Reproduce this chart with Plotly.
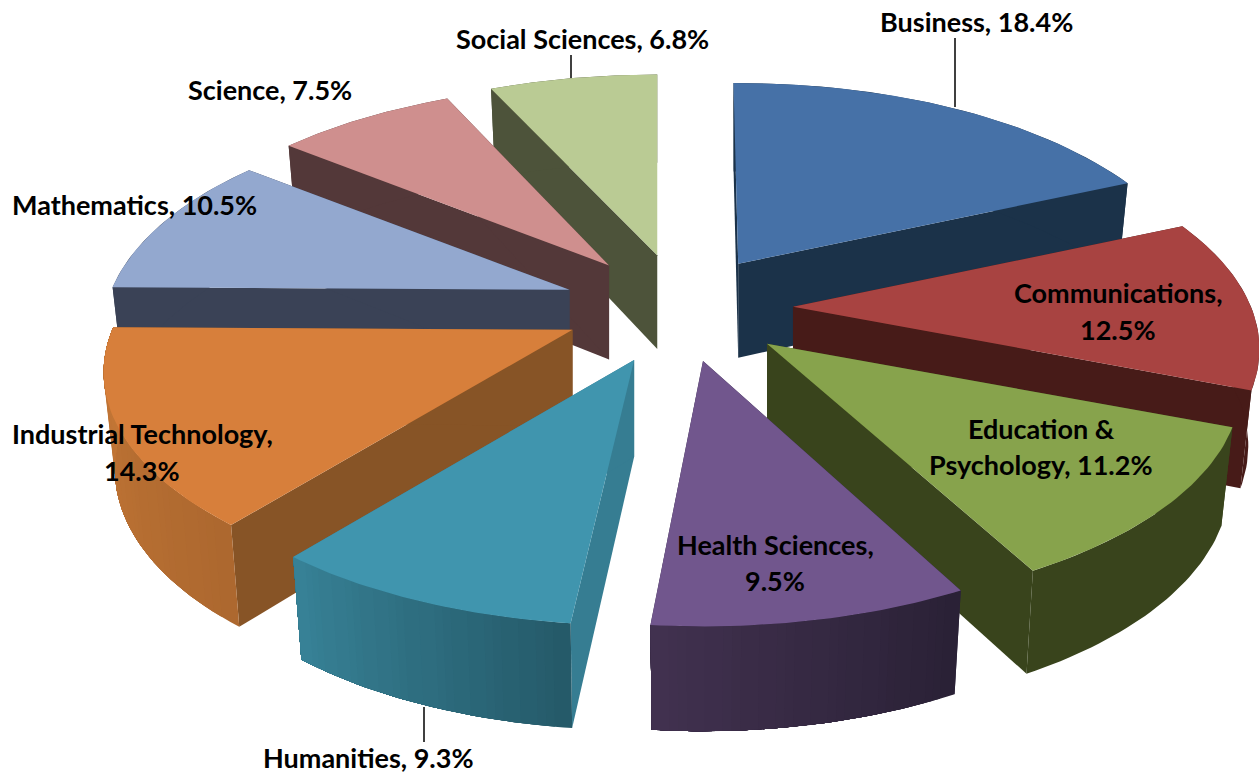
import math
import plotly.graph_objects as go

# --- data -------------------------------------------------------------
categories = ["Business", "Communications", "Education & Psychology", "Health Sciences",
              "Humanities", "Industrial Technology", "Mathematics", "Science", "Social Sciences"]
shares = [18.4, 12.5, 11.2, 9.5, 9.3, 14.3, 10.5, 7.5, 6.8]

top_colors = ["#4671A7", "#A84341", "#87A34C", "#71568D", "#4095AE", "#D77F3B", "#93A8CF", "#CF8F8E", "#BACB94"]
face_colors = ["#1B3249", "#471B18", "#39441C", "#2E2540", "#367D92", "#875426", "#3A4256", "#533839", "#4D533A"]
wall_start = ["#1B3249", "#471B18", "#39441C", "#2A2136", "#255A69", "#AD682F", "#3A4256", "#533839", "#4D533A"]
wall_end = ["#1B3249", "#471B18", "#39441C", "#41314F", "#378196", "#C47736", "#3A4256", "#533839", "#4D533A"]

label_lines = [["Business, 18.4%"], ["Communications,", "12.5%"], ["Education &", "Psychology, 11.2%"],
               ["Health Sciences,", "9.5%"], ["Humanities, 9.3%"], ["Industrial Technology,", "14.3%"],
               ["Mathematics, 10.5%"], ["Science, 7.5%"], ["Social Sciences, 6.8%"]]
label_x = [976, 1118, 1041, 775, 368, 142, 134, 270, 582]
label_y = [[21.5], [292.5, 329.5], [428.5, 464.5], [544.5, 580.5], [757.5], [433.5, 470.5], [204.5], [89.5], [38.5]]
leaders = [(955, 38, 107), (571, 55, 78), (424, 707, 742)]

# --- projection of the exploded, perspective pie ------------------------
CX, CY = 679, 308      # centre the slices explode from
EX, EY = 112, 54       # explosion on screen
A, B, P = 465, 215, 0.19  # radius on screen and perspective

# small per-slice corrections of the projection
nudge_x = [-2, 2, 4, 2, -2, -5, -4, -1, 2]
nudge_y = [1, 0, 0, 0, 2, -1, 0, 0, 0]
width_scale = [0.985, 0.985, 1.0, 1.0, 1.0, 0.99, 0.985, 0.985, 1.0]
start_turn = [-0.7, 0, 0, 1.0, 0.6, 0, 0, 0, -0.3]
end_turn = [0, 0, 0, -0.5, -0.6, 0, 0, 0, 0]


def rim(theta):
    w = 1 + P * math.cos(theta)
    return A * math.sin(theta) / w, -B * math.cos(theta) / w


def lower(pt, apex):
    return pt[0] - 0.024 * (pt[0] - apex[0]), pt[1] + 86 + 0.03 * pt[1]


def hex_mix(c1, c2, t):
    a = [int(c1[i:i + 2], 16) for i in (1, 3, 5)]
    b = [int(c2[i:i + 2], 16) for i in (1, 3, 5)]
    return "#%02x%02x%02x" % tuple(round(u + (v - u) * t) for u, v in zip(a, b))


fig = go.Figure()


def poly(points, color):
    xs = [p[0] for p in points] + [points[0][0]]
    ys = [p[1] for p in points] + [points[0][1]]
    fig.add_trace(go.Scatter(x=xs, y=ys, mode="lines", fill="toself", fillcolor=color,
                             line=dict(color=color, width=0), hoverinfo="skip", showlegend=False))


total = sum(shares)
bounds = [0.0]
for s in shares:
    bounds.append(bounds[-1] + s / total * 2 * math.pi)

draw_order = [8, 7, 6, 5, 4, 0, 1, 2, 3]
STEPS = 36
BANDS = 24
for i in draw_order:
    t0 = bounds[i] + math.radians(start_turn[i])
    t1 = bounds[i + 1] + math.radians(end_turn[i])
    mid = (bounds[i] + bounds[i + 1]) / 2
    apex = (CX + EX * math.sin(mid) + nudge_x[i], CY - EY * math.cos(mid) + nudge_y[i])
    angles = [t0 + (t1 - t0) * k / STEPS for k in range(STEPS + 1)]
    arc = [(apex[0] + width_scale[i] * rim(t)[0], apex[1] + rim(t)[1]) for t in angles]
    low = [lower(p, apex) for p in arc]
    low_apex = lower(apex, apex)
    # radial side faces
    poly([apex, arc[0], low[0], low_apex], face_colors[i])
    poly([apex, arc[-1], low[-1], low_apex], face_colors[i])
    # outer wall: overlapping bands painted in sequence, so no seams show
    n_bands = BANDS if wall_start[i] != wall_end[i] else 1
    for b in range(n_bands):
        k = round(b * STEPS / n_bands)
        poly(arc[k:] + low[k:][::-1], hex_mix(wall_start[i], wall_end[i], b / max(n_bands - 1, 1)))
    # top
    poly([apex] + arc, top_colors[i])

for x, y0, y1 in leaders:
    fig.add_trace(go.Scatter(x=[x, x], y=[y0, y1], mode="lines", line=dict(color="#000000", width=1.5),
                             hoverinfo="skip", showlegend=False))

for lines, x, ys in zip(label_lines, label_x, label_y):
    for line, y in zip(lines, ys):
        fig.add_annotation(x=x, y=y, text="<b>%s</b>" % line, showarrow=False, xref="x", yref="y",
                           xanchor="center", yanchor="middle",
                           font=dict(family="Lato", size=27, color="#000000"))

fig.update_layout(width=1259, height=776, autosize=False, margin=dict(l=0, r=0, t=0, b=0),
                  paper_bgcolor="#FFFFFF", plot_bgcolor="#FFFFFF",
                  xaxis=dict(range=[0, 1259], visible=False, fixedrange=True),
                  yaxis=dict(range=[776, 0], visible=False, fixedrange=True))
fig.write_html("out.html", config={"displayModeBar": False},
               post_script="document.body.style.margin='0';document.body.style.overflow='hidden';")
